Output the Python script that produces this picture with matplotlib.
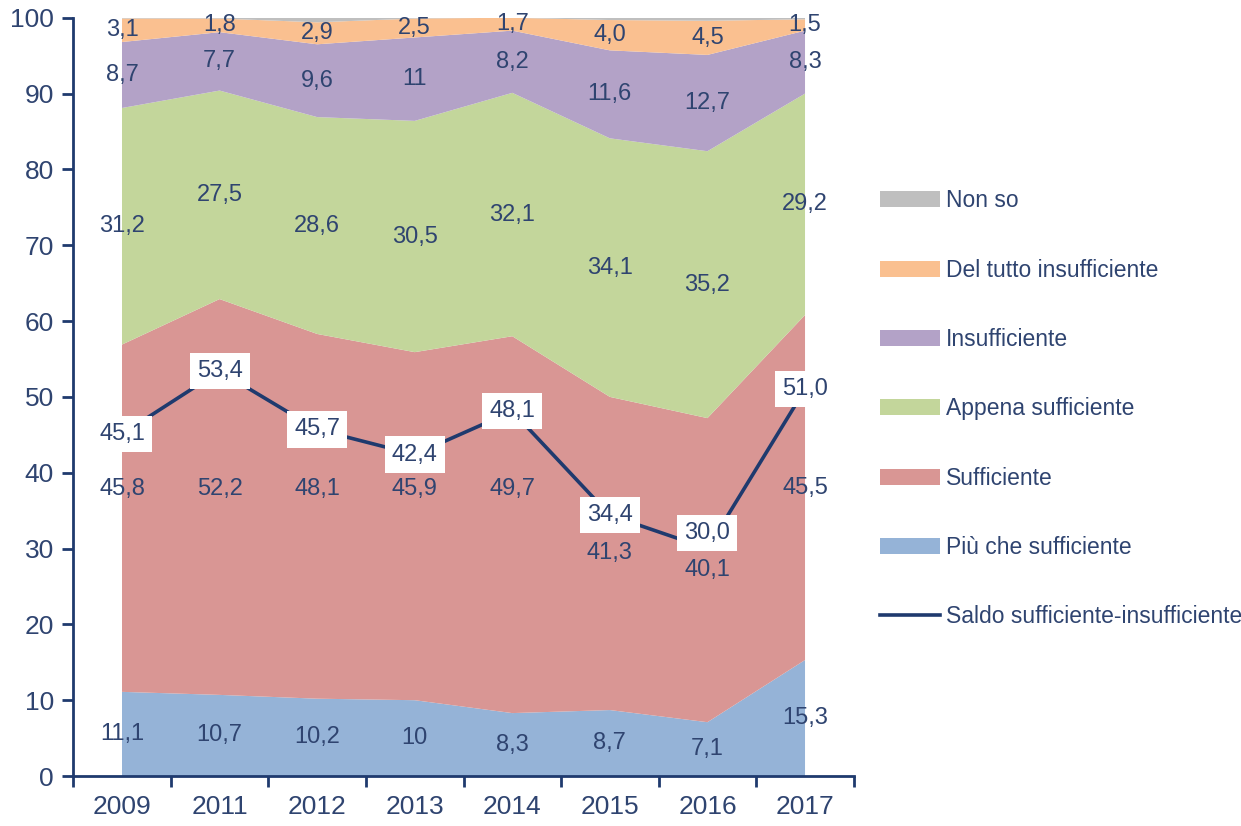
import numpy as np
import matplotlib.pyplot as plt
from matplotlib.patches import Patch
from matplotlib.lines import Line2D

# dati
anni = ['2009', '2011', '2012', '2013', '2014', '2015', '2016', '2017']
piu_che = [11.1, 10.7, 10.2, 10, 8.3, 8.7, 7.1, 15.3]
sufficiente = [45.8, 52.2, 48.1, 45.9, 49.7, 41.3, 40.1, 45.5]
appena = [31.2, 27.5, 28.6, 30.5, 32.1, 34.1, 35.2, 29.2]
insufficiente = [8.7, 7.7, 9.6, 11, 8.2, 11.6, 12.7, 8.3]
del_tutto = [3.1, 1.8, 2.9, 2.5, 1.7, 4.0, 4.5, 1.5]
non_so = [0.1, 0.1, 0.6, 0.1, 0.0, 0.3, 0.4, 0.2]
saldo = [45.1, 53.4, 45.7, 42.4, 48.1, 34.4, 30.0, 51.0]

nomi = ['Più che sufficiente', 'Sufficiente', 'Appena sufficiente',
        'Insufficiente', 'Del tutto insufficiente', 'Non so']
colori = ['#95B3D7', '#D99694', '#C3D69B', '#B3A2C7', '#FAC090', '#BFBFBF']
serie = [piu_che, sufficiente, appena, insufficiente, del_tutto, non_so]

# spostamenti delle etichette come nell'originale (in punti percentuali)
sposta_suff = {0: 3.9, 1: 1.1, 2: 3.6, 3: 4.9, 4: 4.7}
sposta_saldo = {6: 2.1}

plt.rcParams['font.family'] = ['Liberation Sans', 'DejaVu Sans']
navy = '#1F3A6E'
col_txt = '#2F4470'


def fmt(v, decimali=True):
    if not decimali and v == int(v):
        return str(int(v))
    return ('%.1f' % v).replace('.', ',')


fig = plt.figure(figsize=(12.41, 8.26), dpi=100)
ax = fig.add_axes([0.059, 0.0605, 0.629, 0.918])

x = np.arange(len(anni))
ax.stackplot(x, *serie, colors=colori, linewidth=0)

# etichette delle fasce (tranne "Non so")
base = np.zeros(len(anni))
for k, vals in enumerate(serie[:5]):
    v = np.array(vals, dtype=float)
    for i in range(len(anni)):
        y = base[i] + v[i] / 2
        if k == 1:
            y += sposta_suff.get(i, 0)
        ax.text(x[i], y, fmt(v[i], decimali=(k == 4)), ha='center', va='center',
                fontsize=17, color=col_txt)
    base += v

ax.plot(x, saldo, color=navy, lw=2.6, zorder=3)
for i in range(len(anni)):
    ax.text(x[i], saldo[i] + sposta_saldo.get(i, 0), fmt(saldo[i]),
            ha='center', va='center', fontsize=17, color=col_txt, zorder=4,
            bbox=dict(boxstyle='square,pad=0.3', fc='white', ec='none'))

ax.set_xlim(-0.5, len(anni) - 0.5)
ax.set_ylim(0, 100)
ax.set_yticks(np.arange(0, 101, 10))
ax.set_xticks(np.arange(-0.5, len(anni), 1))
ax.set_xticklabels([])
ax.set_xticks(x, minor=True)
ax.set_xticklabels(anni, minor=True)
ax.tick_params(axis='x', which='major', length=8, width=2, color=navy, direction='out')
ax.tick_params(axis='x', which='minor', length=0, pad=14, labelsize=19, labelcolor=col_txt)
ax.tick_params(axis='y', length=8, width=2, color=navy, labelsize=19, labelcolor=col_txt, pad=6)
for lato in ['top', 'right']:
    ax.spines[lato].set_visible(False)
for lato in ['left', 'bottom']:
    ax.spines[lato].set_color(navy)
    ax.spines[lato].set_linewidth(2)

maniglie = [Patch(facecolor=c, edgecolor='none') for c in colori[::-1]]
maniglie.append(Line2D([0], [0], color=navy, lw=2.6))
etichette = nomi[::-1] + ['Saldo sufficiente-insufficiente']
fig.legend(maniglie, etichette, loc='center left', bbox_to_anchor=(0.6925, 0.505),
           frameon=False, fontsize=16.5, labelcolor=col_txt, handlelength=2.6,
           handleheight=0.7, labelspacing=2.02, handletextpad=0.26)

fig.savefig('out.png', dpi=100)
